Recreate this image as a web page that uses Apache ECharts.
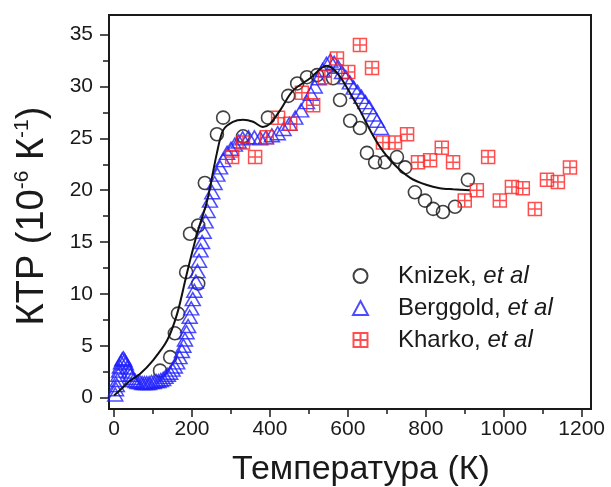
<!DOCTYPE html>
<html lang="ru">
<head>
  <meta charset="UTF-8">
  <title>KTP</title>
  <style>
    * { padding: 0; margin: 0; }
    #charts { width: 611px; height: 487px; }
  </style>
</head>
<body>
  <div id="charts"></div>
<script src="https://cdn.jsdelivr.net/npm/echarts@6/dist/echarts.min.js"></script>
<script type="text/javascript">
  // Knizek et al (open circles): [T, value]
  var knizek = [[118,2.6],[144,3.9],[156,6.2],[164,8.1],[185,12.1],[195,15.8],[216,16.6],[216,11.0],
    [233,20.7],[264,25.4],[280,27.0],[331,25.2],[395,27.0],[447,29.1],[470,30.3],[495,30.9],
    [521,31.1],[562,30.8],[580,28.7],[606,26.7],[631,26.0],[649,23.6],[670,22.7],[695,22.7],
    [726,23.2],[747,22.2],[772,19.8],[798,19.0],[819,18.2],[844,17.9],[875,18.4],[908,21.0]]
  // Berggold et al (open triangles)
  var berggold = [[3,0.3],[5,0.8],[7,1.2],[9,1.7],[11,2.2],[13,2.6],[15,3.0],[18,3.4],[21,3.7],
    [24,3.8],[27,3.6],[30,3.3],[34,2.9],[38,2.5],[42,2.2],[46,1.9],[50,1.7],[55,1.6],[60,1.5],
    [66,1.5],[72,1.4],[78,1.4],[84,1.4],[90,1.4],[96,1.5],[102,1.5],[108,1.6],[114,1.6],[120,1.7],
    [126,1.8],[132,2.0],[138,2.2],[144,2.4],[150,2.7],[156,3.0],[162,3.4],[168,3.9],[174,4.5],
    [178,5.0],[182,5.6],[186,6.3],[190,6.9],[194,7.8],[198,8.6],[202,9.5],[206,10.3],[210,11.2],
    [214,12.2],[218,13.2],[222,14.2],[226,15.0],[230,16.0],[235,17.0],[240,18.0],[246,19.0],
    [252,19.8],[258,20.7],[265,21.5],[272,22.2],[280,22.9],[290,23.6],[300,24.0],[310,24.4],
    [320,24.7],[330,25.0],[345,25.1],[360,25.1],[375,25.0],[390,25.1],[405,25.3],[420,25.5],
    [435,25.9],[450,26.4],[465,27.0],[480,27.7],[495,28.5],[505,29.3],[515,30.0],[525,30.8],
    [535,31.6],[545,32.2],[555,32.5],[565,32.3],[575,31.9],[585,31.4],[595,30.9],[605,30.4],
    [615,29.9],[625,29.5],[635,29.0],[645,28.5],[655,28.0],[665,27.3],[675,26.7],[685,26.0]]
  // Kharko et al (squares with cross)
  var kharko = [[303,23.2],[331,24.6],[362,23.2],[392,25.1],[421,27.0],[452,26.4],[482,29.4],
    [511,28.2],[541,30.9],[572,32.7],[601,31.4],[631,34.0],[662,31.8],[690,24.6],[721,24.6],
    [752,25.4],[780,22.7],[811,22.9],[841,24.1],[870,22.7],[900,19.0],[931,20.0],[960,23.2],
    [990,19.0],[1021,20.3],[1049,20.2],[1080,18.2],[1111,21.0],[1139,20.8],[1170,22.2]]
  // model curve (solid black line)
  var model = [[0,0.2],[20,0.9],[40,1.6],[67,2.3],[100,3.6],[136,5.5],[162,8.1],[187,12.0],
    [213,15.8],[239,19.0],[264,23.6],[280,25.8],[305,26.6],[331,26.8],[357,26.6],[382,26.1],
    [400,26.4],[426,27.7],[459,29.6],[503,30.8],[545,32.0],[575,31.2],[613,28.9],[631,27.7],
    [657,25.8],[682,24.2],[716,22.6],[760,21.2],[803,20.5],[836,20.2],[870,20.1],[913,20.0]]

  var xMajor = [0, 200, 400, 600, 800, 1000, 1200]
  var xMinor = [100, 300, 500, 700, 900, 1100]
  var yMajor = [0, 5, 10, 15, 20, 25, 30, 35]
  var yMinor = [2.5, 7.5, 12.5, 17.5, 22.5, 27.5, 32.5]

  var font = 'Liberation Sans, Arial, sans-serif'
  var ink = '#1a1a1a'
  var boxSym = 'path://M0,0H10V10H0Z M5,0V10 M0,5H10'

  var myChart = echarts.init(document.getElementById('charts'))

  function axisPair(major, minor, extra) {
    var main = {
      type: 'value', min: extra.min, max: extra.max, position: extra.pos,
      splitLine: { show: false },
      axisLine: { show: true, onZero: false, lineStyle: { color: ink, width: 2 } },
      axisTick: { show: true, length: extra.tick, customValues: major, lineStyle: { color: ink, width: 1.5 } },
      axisLabel: { customValues: major, margin: extra.margin, fontSize: 21, color: ink, fontFamily: font,
        formatter: function (v) { return String(v) } }
    }
    var sub = {
      type: 'value', min: extra.min, max: extra.max, position: extra.pos,
      splitLine: { show: false },
      axisLine: { show: false, onZero: false },
      axisTick: { show: true, length: extra.tick - 3, customValues: minor, lineStyle: { color: ink, width: 1.5 } },
      axisLabel: { show: false }
    }
    return [main, sub]
  }

  var option = {
    backgroundColor: '#fff',
    animation: false,
    grid: { left: 109, right: 20, top: 15, bottom: 78, show: true, borderColor: ink, borderWidth: 2 },
    xAxis: axisPair(xMajor, xMinor, { min: -13, max: 1224, pos: 'bottom', tick: 8, margin: 10 }),
    yAxis: axisPair(yMajor, yMinor, { min: -1.1, max: 36.9, pos: 'left', tick: 9, margin: 16 }),
    legend: {
      orient: 'vertical', left: 347, top: 259, itemGap: 8,
      itemWidth: 15, itemHeight: 14,
      data: ['Knizek', 'Berggold', 'Kharko'],
      formatter: function (n) { return n + ', {i|et al}' },
      textStyle: { fontSize: 24, color: ink, fontFamily: font, padding: [0, 0, 0, 25],
        rich: { i: { fontSize: 24, fontStyle: 'italic', color: ink, fontFamily: font } } }
    },
    graphic: [
      { type: 'text', x: 361, y: 470,
        style: { text: 'Температура (К)', fontSize: 34, fill: ink, fontFamily: font, align: 'center', verticalAlign: 'middle' } },
      { type: 'text', x: 33, y: 216, rotation: Math.PI / 2,
        style: { text: '{a|КТР (10}{s|-6}{a| К}{s|-1}{a|)}', align: 'center', verticalAlign: 'middle',
          rich: { a: { fontSize: 38, fill: ink, fontFamily: font, lineHeight: 42 },
                  s: { fontSize: 21, fill: ink, fontFamily: font, verticalAlign: 'top' } } } }
    ],
    series: [
      { name: 'Knizek', type: 'scatter', data: knizek, symbol: 'circle', symbolSize: 13,
        itemStyle: { color: 'transparent', borderColor: '#111', borderWidth: 1.6 } },
      { name: 'Berggold', type: 'scatter', data: berggold, symbol: 'triangle', symbolSize: [15, 13],
        itemStyle: { color: 'transparent', borderColor: '#1f1fff', borderWidth: 1.5 } },
      { name: 'Kharko', type: 'scatter', data: kharko, symbol: boxSym, symbolSize: 13,
        itemStyle: { color: 'transparent', borderColor: '#f22', borderWidth: 1.5 } },
      { name: 'model', type: 'line', data: model, smooth: 0.3, showSymbol: false, symbol: 'none',
        lineStyle: { color: '#111', width: 2 }, z: 3 }
    ]
  }
  myChart.setOption(option)
</script>
</body>
</html>
